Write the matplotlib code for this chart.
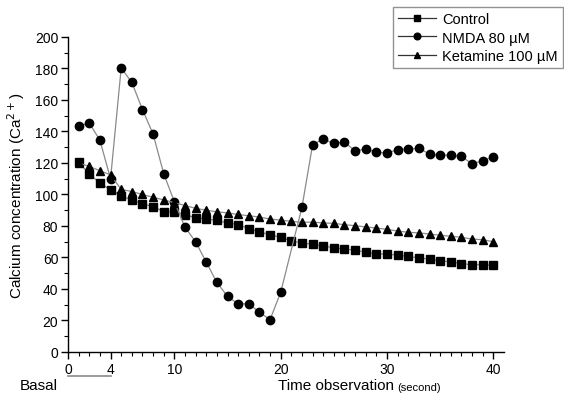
import numpy as np
from matplotlib import pyplot as plt

# time points (second)
t_control = list(range(1, 41))
t_ketamine = list(range(1, 41))
t_nmda = list(range(1, 21)) + list(range(22, 41))

control = [120.4, 113, 107.2, 103, 99.3, 96.3, 94.1, 92.3, 89.2, 89,
           87, 85.3, 84.4, 83.6, 81.9, 80.9, 78.4, 76.2, 74.5, 72.8,
           70.5, 69.2, 68.4, 67.3, 66.2, 65.2, 64.8, 63.2, 62.4, 62,
           61.6, 60.7, 59.7, 59, 57.8, 57.3, 56.1, 55.4, 55.4, 55]

nmda = [143.5, 145.4, 134.4, 110, 180.3, 171.2, 153.9, 138.4, 113.2, 95.4,
        79.2, 70, 57, 44.2, 35.3, 30.5, 30.7, 25.2, 20.5, 37.9,
        91.9, 131.6, 135.2, 132.4, 133.3, 127.6, 128.9, 126.8, 126.3, 128.5,
        128.9, 129.3, 125.7, 124.8, 125.1, 124.2, 119.4, 121.5, 123.8]

ketamine = [120, 117.8, 115.1, 112.5, 103.2, 101.9, 100, 98.2, 96.6, 94.8,
            93, 91.2, 90, 89, 88.3, 87.3, 86.5, 85.7, 84.4, 83.7,
            83, 82.3, 82.5, 81.9, 81.7, 80.8, 80.2, 79.4, 78.7, 77.9,
            76.8, 76, 75.6, 74.9, 74.1, 73.5, 72.8, 71.7, 71.3, 70]

x_ticks = [0, 4, 10, 20, 30, 40]

plt.rcParams['font.family'] = ['Liberation Sans', 'DejaVu Sans']

fig = plt.figure(figsize=(5.64, 4.02), dpi=100)
ax = fig.add_axes([0.1206, 0.1219, 0.773, 0.7836])

line_kw = dict(color='#8a8a8a', lw=0.9, markerfacecolor='black',
               markeredgecolor='black', markersize=6)
ax.plot(t_control, control, marker='s', label='Control', **line_kw)
ax.plot(t_nmda, nmda, marker='o', label='NMDA 80 µM', **line_kw)
ax.plot(t_ketamine, ketamine, marker='^', label='Ketamine 100 µM', **line_kw)

ax.set_xlim(0, 41)
ax.set_ylim(0, 200)
ax.set_xticks(x_ticks)
ax.set_xticks(np.arange(0, 41, 1), minor=True)
ax.set_yticks(np.arange(0, 201, 20))
ax.set_yticks(np.arange(0, 201, 10), minor=True)
ax.tick_params(which='major', length=5, width=1, labelsize=10, direction='out', pad=2)
ax.tick_params(which='minor', length=3, width=0.8, direction='out')
for s in ['top', 'right']:
    ax.spines[s].set_visible(False)
for s in ['left', 'bottom']:
    ax.spines[s].set_linewidth(1)

ax.set_ylabel('Calcium concentration (Ca$^{2+}$)', fontsize=11, labelpad=6)

# basal bar under 0-4
ax.plot([0, 4], [-0.075, -0.075], color='#8a8a8a', lw=1.2,
        transform=ax.get_xaxis_transform(), clip_on=False)
fig.text(0.035, 0.03, 'Basal', fontsize=11)

t1 = fig.text(0.493, 0.03, 'Time observation', fontsize=11)
ax.annotate('(second)', xy=(1, 0), xycoords=t1, xytext=(2, 0),
            textcoords='offset points', fontsize=8, va='bottom')

leg = ax.legend(loc='upper right', bbox_to_anchor=(0.998, 0.98),
                bbox_transform=fig.transFigure, fontsize=10.5, frameon=True,
                fancybox=False, edgecolor='#777777', handlelength=2.6,
                labelspacing=0.3, borderpad=0.35, handletextpad=0.4,
                borderaxespad=0, markerscale=0.8)
for ln in leg.get_lines():
    ln.set_color('#333333')

fig.savefig('out.png', dpi=100)
